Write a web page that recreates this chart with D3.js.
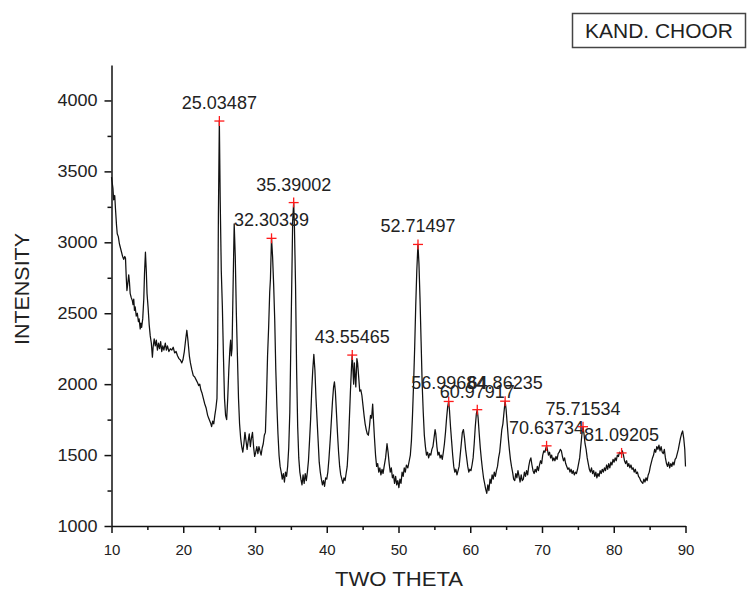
<!DOCTYPE html>
<html><head><meta charset="utf-8">
<script src="https://cdn.jsdelivr.net/npm/d3@7"></script>
<style>
html,body{margin:0;padding:0;background:#fff;}
svg{display:block;font-family:"Liberation Sans",Arial,sans-serif;}
</style></head>
<body><svg id="c" width="747" height="589"></svg>
<script>
// XRD pattern: [two theta, intensity]
const pattern = [
[10.0,3460],[10.1,3420],[10.2,3380],[10.3,3300],[10.45,3330],[10.55,3240],[10.7,3120],[10.8,3060],[10.95,3040],[11.1,2990],[11.25,2960],[11.4,2930],[11.55,2900],[11.7,2880],[11.85,2900],[11.95,2890],[12.05,2760],[12.15,2660],[12.25,2700],[12.4,2770],[12.5,2720],[12.6,2640],[12.75,2610],[12.9,2590],[13.0,2560],[13.1,2600],[13.2,2520],[13.3,2545],[13.45,2480],[13.6,2500],[13.75,2440],[13.85,2460],[14.0,2390],[14.1,2430],[14.2,2400],[14.35,2460],[14.5,2600],[14.6,2780],[14.73,2930],[14.85,2800],[14.95,2640],[15.1,2540],[15.25,2420],[15.4,2340],[15.55,2290],[15.7,2190],[15.8,2260],[15.95,2320],[16.1,2270],[16.25,2310],[16.4,2240],[16.55,2290],[16.7,2250],[16.85,2300],[17.0,2230],[17.15,2270],[17.3,2240],[17.5,2290],[17.65,2240],[17.8,2270],[18.0,2230],[18.2,2250],[18.4,2240],[18.6,2260],[18.8,2220],[19.0,2230],[19.2,2200],[19.4,2180],[19.6,2170],[19.8,2150],[19.95,2170],[20.15,2230],[20.35,2320],[20.5,2380],[20.65,2310],[20.85,2200],[21.0,2150],[21.2,2100],[21.4,2060],[21.6,2050],[21.8,2030],[22.0,2010],[22.15,1990],[22.3,2000],[22.45,1960],[22.6,1940],[22.8,1900],[23.0,1860],[23.2,1830],[23.4,1780],[23.55,1760],[23.7,1740],[23.85,1720],[23.95,1700],[24.1,1740],[24.25,1720],[24.4,1780],[24.55,1830],[24.7,1900],[24.8,2300],[24.9,3200],[25.03,3855],[25.15,3300],[25.3,2800],[25.45,2550],[25.6,2200],[25.75,1900],[25.9,1780],[26.05,1750],[26.2,1900],[26.35,2100],[26.5,2250],[26.6,2310],[26.7,2200],[26.8,2250],[26.95,2700],[27.1,3130],[27.25,2900],[27.4,2500],[27.55,2200],[27.7,1900],[27.85,1720],[28.0,1620],[28.15,1560],[28.3,1520],[28.45,1580],[28.6,1660],[28.75,1600],[28.9,1540],[29.05,1600],[29.2,1650],[29.35,1560],[29.5,1620],[29.65,1660],[29.8,1560],[29.95,1490],[30.1,1520],[30.25,1560],[30.4,1510],[30.55,1560],[30.7,1530],[30.85,1500],[31.0,1550],[31.15,1580],[31.3,1640],[31.45,1660],[31.6,1900],[31.75,2200],[31.9,2400],[32.05,2650],[32.15,2740],[32.3,3030],[32.45,2900],[32.6,2700],[32.75,2450],[32.9,2100],[33.05,1850],[33.2,1650],[33.35,1500],[33.5,1420],[33.65,1380],[33.8,1330],[33.95,1370],[34.1,1310],[34.25,1380],[34.4,1350],[34.55,1420],[34.7,1550],[34.85,1800],[35.0,2300],[35.15,2800],[35.25,3150],[35.39,3280],[35.5,3100],[35.65,2700],[35.8,2100],[35.95,1700],[36.1,1480],[36.25,1380],[36.4,1330],[36.55,1290],[36.7,1360],[36.85,1300],[37.0,1370],[37.15,1320],[37.3,1380],[37.45,1460],[37.6,1600],[37.75,1750],[37.9,1950],[38.05,2100],[38.2,2210],[38.35,2100],[38.5,1900],[38.65,1750],[38.8,1600],[38.95,1450],[39.1,1380],[39.25,1330],[39.4,1290],[39.55,1320],[39.7,1280],[39.85,1340],[40.0,1330],[40.15,1380],[40.3,1470],[40.5,1620],[40.65,1750],[40.8,1880],[40.95,1980],[41.07,2016],[41.2,1950],[41.35,1800],[41.5,1650],[41.65,1520],[41.8,1420],[41.95,1360],[42.1,1330],[42.25,1300],[42.4,1340],[42.55,1320],[42.7,1370],[42.85,1420],[43.0,1550],[43.15,1750],[43.3,1950],[43.45,2120],[43.55,2205],[43.65,2100],[43.75,2000],[43.85,2150],[43.95,2060],[44.05,1980],[44.2,2180],[44.3,2150],[44.45,2050],[44.6,1950],[44.75,1960],[44.9,1920],[45.05,1850],[45.2,1780],[45.35,1720],[45.5,1680],[45.65,1650],[45.8,1640],[45.95,1700],[46.1,1780],[46.25,1760],[46.4,1860],[46.5,1760],[46.65,1620],[46.8,1500],[46.95,1420],[47.1,1440],[47.25,1380],[47.4,1410],[47.55,1360],[47.7,1400],[47.85,1370],[48.0,1420],[48.2,1480],[48.4,1580],[48.55,1520],[48.7,1440],[48.85,1380],[49.0,1410],[49.15,1340],[49.3,1360],[49.45,1300],[49.6,1350],[49.75,1290],[49.9,1320],[50.05,1270],[50.2,1330],[50.35,1300],[50.5,1380],[50.65,1350],[50.8,1410],[50.95,1380],[51.1,1430],[51.3,1410],[51.5,1460],[51.65,1500],[51.8,1600],[51.95,1780],[52.1,2000],[52.25,2250],[52.4,2550],[52.55,2800],[52.71,2985],[52.85,2850],[53.0,2600],[53.15,2300],[53.3,2000],[53.45,1800],[53.6,1640],[53.75,1560],[53.9,1500],[54.05,1520],[54.2,1480],[54.35,1510],[54.5,1500],[54.65,1540],[54.8,1560],[54.95,1620],[55.1,1680],[55.2,1650],[55.35,1560],[55.5,1500],[55.65,1520],[55.8,1480],[55.95,1500],[56.1,1470],[56.25,1520],[56.4,1580],[56.55,1660],[56.7,1760],[56.85,1840],[56.99,1878],[57.1,1820],[57.25,1700],[57.4,1600],[57.55,1500],[57.7,1420],[57.85,1380],[58.0,1400],[58.15,1360],[58.3,1390],[58.45,1420],[58.6,1500],[58.75,1580],[58.9,1660],[59.05,1680],[59.2,1620],[59.35,1540],[59.5,1480],[59.65,1420],[59.8,1380],[59.95,1400],[60.1,1390],[60.25,1430],[60.4,1480],[60.55,1580],[60.7,1700],[60.85,1790],[60.98,1820],[61.1,1760],[61.25,1650],[61.4,1550],[61.55,1470],[61.7,1400],[61.85,1340],[62.0,1300],[62.15,1260],[62.3,1230],[62.45,1290],[62.6,1250],[62.75,1330],[62.9,1300],[63.05,1360],[63.2,1330],[63.35,1380],[63.5,1350],[63.65,1390],[63.8,1420],[63.95,1480],[64.1,1520],[64.25,1600],[64.4,1680],[64.55,1720],[64.7,1800],[64.86,1880],[65.0,1820],[65.15,1720],[65.3,1620],[65.45,1540],[65.6,1470],[65.75,1420],[65.9,1380],[66.05,1330],[66.2,1320],[66.35,1370],[66.5,1340],[66.65,1390],[66.8,1350],[66.95,1310],[67.1,1360],[67.25,1320],[67.4,1330],[67.55,1380],[67.7,1350],[67.85,1390],[68.0,1360],[68.15,1420],[68.3,1460],[68.45,1480],[68.6,1430],[68.75,1390],[68.9,1370],[69.05,1400],[69.2,1380],[69.35,1420],[69.5,1390],[69.65,1430],[69.8,1460],[69.95,1440],[70.1,1500],[70.25,1530],[70.4,1520],[70.55,1550],[70.64,1565],[70.75,1540],[70.9,1500],[71.05,1520],[71.2,1480],[71.35,1500],[71.5,1460],[71.65,1480],[71.8,1460],[71.95,1490],[72.1,1470],[72.25,1510],[72.4,1520],[72.55,1540],[72.7,1530],[72.85,1490],[73.0,1460],[73.15,1480],[73.3,1440],[73.45,1420],[73.6,1400],[73.75,1410],[73.9,1380],[74.05,1400],[74.2,1370],[74.35,1390],[74.5,1360],[74.65,1380],[74.8,1370],[74.95,1400],[75.1,1440],[75.25,1480],[75.4,1560],[75.55,1640],[75.72,1700],[75.85,1650],[76.0,1580],[76.15,1540],[76.3,1480],[76.45,1440],[76.6,1400],[76.75,1380],[76.9,1410],[77.05,1370],[77.2,1390],[77.35,1350],[77.5,1380],[77.65,1340],[77.8,1370],[77.95,1350],[78.1,1390],[78.25,1370],[78.4,1400],[78.55,1380],[78.7,1410],[78.85,1390],[79.0,1430],[79.15,1400],[79.3,1440],[79.45,1410],[79.6,1450],[79.75,1430],[79.9,1470],[80.05,1450],[80.2,1480],[80.35,1460],[80.5,1500],[80.65,1490],[80.8,1520],[80.95,1510],[81.09,1515],[81.2,1530],[81.35,1500],[81.5,1460],[81.65,1440],[81.8,1460],[81.95,1420],[82.1,1440],[82.25,1410],[82.4,1430],[82.55,1400],[82.7,1410],[82.85,1380],[83.0,1400],[83.15,1370],[83.3,1380],[83.45,1350],[83.6,1340],[83.75,1320],[83.9,1310],[84.05,1300],[84.2,1330],[84.35,1310],[84.5,1340],[84.65,1320],[84.8,1360],[84.95,1380],[85.1,1420],[85.25,1450],[85.4,1480],[85.55,1500],[85.7,1540],[85.85,1520],[86.0,1560],[86.15,1540],[86.3,1570],[86.45,1530],[86.6,1560],[86.75,1520],[86.9,1510],[87.05,1540],[87.2,1480],[87.35,1440],[87.5,1420],[87.65,1450],[87.8,1410],[87.95,1440],[88.1,1420],[88.25,1450],[88.4,1430],[88.55,1470],[88.7,1480],[88.85,1510],[89.0,1540],[89.15,1580],[89.3,1620],[89.45,1650],[89.6,1670],[89.75,1620],[89.9,1540],[90.0,1420]
];

// Marked peaks
const peakLabels = ["25.03487","32.30339","35.39002","43.55465","52.71497","56.99684","60.97917","64.86235","70.63734","75.71534","81.09205"];
const peakIntensity = [3855,3028,3280,2205,2985,1878,1820,1880,1565,1700,1515];

const xTicks = [10,20,30,40,50,60,70,80,90];
const xMinorTicks = [15,25,35,45,55,65,75,85];
const yTicks = [1000,1500,2000,2500,3000,3500,4000];
const yMinorTicks = [1250,1750,2250,2750,3250,3750];

const xTitle = "TWO THETA";
const yTitle = "INTENSITY";
const legendText = "KAND. CHOOR";

const svg = d3.select("#c");
const x = d3.scaleLinear().domain([10,90]).range([111.5,685.5]);
const y = d3.scaleLinear().domain([1000,4250]).range([526,65]);

// curve
const line = d3.line().x(d=>x(d[0])).y(d=>y(d[1]));
svg.append("path").datum(pattern)
  .attr("d", line).attr("fill","none")
  .attr("stroke","#111").attr("stroke-width",1.25).attr("stroke-linejoin","round");

// axes
const gx = svg.append("g").attr("transform","translate(0,526)");
gx.call(d3.axisBottom(x).tickValues(xMinorTicks).tickSize(4).tickSizeOuter(0).tickFormat(""));
gx.call(g=>g.select(".domain").remove());
const gx2 = svg.append("g").attr("transform","translate(0,526)");
gx2.call(d3.axisBottom(x).tickValues(xTicks).tickSize(7).tickSizeOuter(0).tickPadding(11).tickFormat(d3.format("d")));

const gy = svg.append("g").attr("transform","translate(111.5,0)");
gy.call(d3.axisLeft(y).tickValues(yMinorTicks).tickSize(4).tickSizeOuter(0).tickFormat(""));
gy.call(g=>g.select(".domain").remove());
const gy2 = svg.append("g").attr("transform","translate(111.5,0)");
gy2.call(d3.axisLeft(y).tickValues(yTicks).tickSize(7).tickSizeOuter(0).tickPadding(7).tickFormat(d3.format("d")));

svg.selectAll(".domain, .tick line").attr("stroke","#111").attr("stroke-width",1.5);
svg.selectAll(".tick text").attr("font-size",15).attr("fill","#222")
  .attr("font-family","'Liberation Sans',Arial,sans-serif");
gy2.selectAll(".tick text").attr("font-size",16)
  .attr("textLength",40).attr("lengthAdjust","spacingAndGlyphs");

// peak markers + labels
const peaks = peakLabels.map((l,i)=>({t:+l, v:peakIntensity[i], label:l}));
const pg = svg.append("g");
peaks.forEach(p=>{
  const px = x(p.t), py = y(p.v);
  pg.append("line").attr("x1",px-5).attr("x2",px+5).attr("y1",py).attr("y2",py)
    .attr("stroke","#ff1a1a").attr("stroke-width",1.3);
  pg.append("line").attr("x1",px).attr("x2",px).attr("y1",py-5).attr("y2",py+5)
    .attr("stroke","#ff1a1a").attr("stroke-width",1.3);
  pg.append("text").attr("x",px).attr("y",py-12).attr("text-anchor","middle")
    .attr("font-size",18).attr("fill","#222").text(p.label);
});

// axis titles
svg.append("text").attr("x",399).attr("y",586).attr("text-anchor","middle")
  .attr("font-size",20).attr("fill","#222")
  .attr("textLength",128).attr("lengthAdjust","spacingAndGlyphs").text(xTitle);
svg.append("text").attr("transform","translate(29,289) rotate(-90)").attr("text-anchor","middle")
  .attr("font-size",20).attr("fill","#222")
  .attr("textLength",112).attr("lengthAdjust","spacingAndGlyphs").text(yTitle);

// legend box
svg.append("rect").attr("x",572.5).attr("y",13.5).attr("width",173).attr("height",34)
  .attr("fill","#fff").attr("stroke","#444").attr("stroke-width",1.5);
svg.append("text").attr("x",585).attr("y",38).attr("font-size",20).attr("fill","#222")
  .attr("textLength",148).attr("lengthAdjust","spacingAndGlyphs").text(legendText);
</script></body></html>
